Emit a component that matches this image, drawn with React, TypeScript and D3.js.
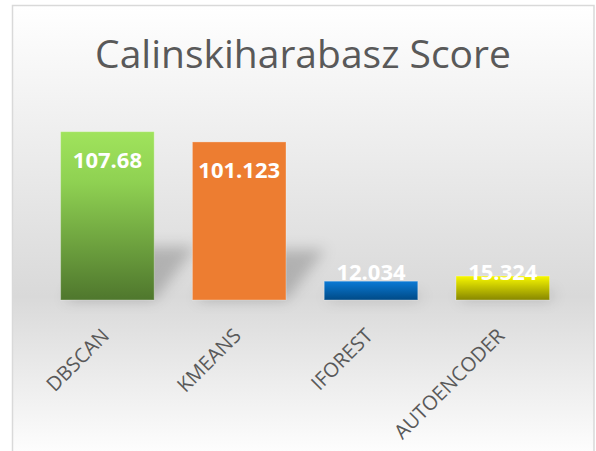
import React from "react";
import * as d3 from "d3";

const categories = ["DBSCAN", "KMEANS", "IFOREST", "AUTOENCODER"];
const values = [107.68, 101.123, 12.034, 15.324];
const valueLabels = ["107.68", "101.123", "12.034", "15.324"];
const title = "Calinskiharabasz Score";

const W = 596;
const H = 451;
const base = 300;

const barFills = [
  [
    { o: 0, c: "#a0e35c" },
    { o: 0.3, c: "#8fd152" },
    { o: 1, c: "#4f772d" },
  ],
  [
    { o: 0, c: "#ed7d31" },
    { o: 1, c: "#ed7d31" },
  ],
  [
    { o: 0, c: "#0a7ad6" },
    { o: 1, c: "#004a86" },
  ],
  [
    { o: 0, c: "#f8f800" },
    { o: 1, c: "#878700" },
  ],
];

export default function App() {
  const x = d3
    .scaleBand<string>()
    .domain(categories)
    .range([41.5, 568.7])
    .paddingInner(0.29)
    .paddingOuter(0.145);
  const y = d3.scaleLinear().domain([0, 120]).range([base, base - 187.6]);

  return (
    <svg
      width={W}
      height={H}
      style={{ position: "absolute", left: 0, top: 0 }}
      fontFamily="'Open Sans', sans-serif"
    >
      <defs>
        <linearGradient id="bg" x1="0" y1="5" x2="0" y2="460" gradientUnits="userSpaceOnUse">
          <stop offset="0" stopColor="#ffffff" />
          <stop offset="0.64" stopColor="#d9d9d9" />
          <stop offset="1" stopColor="#ffffff" />
        </linearGradient>
        {barFills.map((stops, i) => (
          <linearGradient key={i} id={`bar${i}`} x1="0" y1="0" x2="0" y2="1">
            {stops.map((s, j) => (
              <stop key={j} offset={s.o} stopColor={s.c} />
            ))}
          </linearGradient>
        ))}
        <filter id="blur" x="-50%" y="-50%" width="200%" height="200%">
          <feGaussianBlur stdDeviation="7" />
        </filter>
      </defs>
      <rect x={0} y={0} width={W} height={H} fill="#ffffff" />
      <rect
        x={12.5}
        y={5.5}
        width={581.5}
        height={470}
        fill="url(#bg)"
        stroke="#d9d9d9"
        strokeWidth={1.5}
      />
      <text x={303} y={68} textAnchor="middle" fontSize={39} fill="#595959">
        {title}
      </text>
      <g filter="url(#blur)">
        {categories.map((c, i) => {
          const x0 = x(c)!;
          const x1 = x0 + x.bandwidth();
          const h = base - y(values[i]);
          const dx = h * 0.25;
          const dy = h * 0.32;
          return (
            <polygon
              key={c}
              points={`${x0 + 4},${base} ${x1},${base} ${x1 + dx},${base - dy} ${x0 + dx},${base - dy}`}
              fill="#000"
              opacity={0.2}
            />
          );
        })}
      </g>
      {categories.map((c, i) => {
        const x0 = x(c)!;
        const top = y(values[i]);
        return (
          <rect
            key={c}
            x={x0}
            y={top}
            width={x.bandwidth()}
            height={base - top}
            fill={`url(#bar${i})`}
            stroke="rgba(255,255,255,0.3)"
            strokeWidth={1}
          />
        );
      })}
      {categories.map((c, i) => {
        const cx = x(c)! + x.bandwidth() / 2;
        const top = y(values[i]);
        const ly = Math.min(top + 36, base - 20);
        return (
          <text
            key={c}
            x={cx}
            y={ly}
            textAnchor="middle"
            fontSize={22}
            fontWeight="bold"
            fill="#ffffff"
          >
            {valueLabels[i]}
          </text>
        );
      })}
      {categories.map((c) => {
        const cx = x(c)! + x.bandwidth() / 2 + 3;
        const ly = 337;
        return (
          <text
            key={c}
            x={cx}
            y={ly}
            textAnchor="end"
            fontSize={20}
            fill="#595959"
            transform={`rotate(-45 ${cx} ${ly})`}
          >
            {c}
          </text>
        );
      })}
    </svg>
  );
}
